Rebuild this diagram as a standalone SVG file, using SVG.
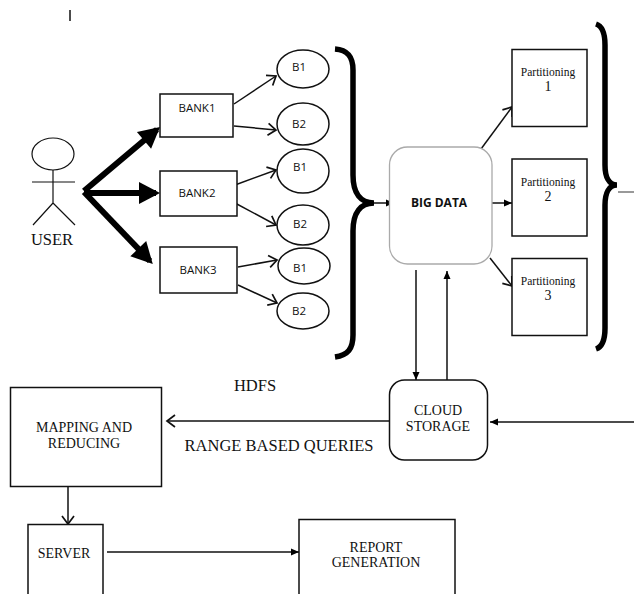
<svg xmlns="http://www.w3.org/2000/svg" width="634" height="594" viewBox="0 0 634 594">
<style>
.box{fill:#fff;stroke:#111;stroke-width:1.5}
.ln{fill:none;stroke:#111;stroke-width:1.5}
.thick{fill:none;stroke:#000;stroke-width:6}
.brace{fill:none;stroke:#000;stroke-width:5.5}
.s{font-family:"Open Sans",sans-serif;font-size:11.500px;fill:#111;text-anchor:middle}
.t{font-family:"Liberation Serif",serif;fill:#111;text-anchor:middle}
.m{font-size:14px}
.l{font-size:16.500px}
.p{font-size:11.500px}
</style>
<defs>
<marker id="open" markerUnits="userSpaceOnUse" markerWidth="16" markerHeight="16" refX="12" refY="8" orient="auto"><path d="M4 2L12 8L4 14" fill="none" stroke="#111" stroke-width="1.700"/></marker>
<marker id="fill" markerUnits="userSpaceOnUse" markerWidth="12" markerHeight="12" refX="9" refY="6" orient="auto"><path d="M1 2.500L9 6L1 9.500Z" fill="#000"/></marker>
<marker id="big" markerUnits="userSpaceOnUse" markerWidth="26" markerHeight="26" refX="18" refY="13" orient="auto"><path d="M1 2L22 13L1 24Z" fill="#000"/></marker>
</defs>
<g id="connectors">
<path class="ln" d="M70 10V21"/>
<path class="thick" d="M84 191L157 129.500" marker-end="url(#big)"/>
<path class="thick" d="M84 193H156" marker-end="url(#big)"/>
<path class="thick" d="M84 192L150 261" marker-end="url(#big)"/>
<path class="ln" d="M234 104L276 76" marker-end="url(#open)"/>
<path class="ln" d="M234 126L276 130" marker-end="url(#open)"/>
<path class="ln" d="M235 185L276 170" marker-end="url(#open)"/>
<path class="ln" d="M235 203L276 225" marker-end="url(#open)"/>
<path class="ln" d="M238 267L277 260" marker-end="url(#open)"/>
<path class="ln" d="M238 285L277 303" marker-end="url(#open)"/>
<path class="brace" d="M335 49C348 50 353 57 353 70V175C353 194 361 203 374 203C361 203 353 212 353 231V335C353 349 348 355 335 357"/>
<path class="ln" d="M374 203H394" marker-end="url(#fill)"/>
<path class="ln" d="M481 149L512 107" marker-end="url(#open)"/>
<path class="ln" d="M490 203H512" marker-end="url(#fill)"/>
<path class="ln" d="M490 258L512 286" marker-end="url(#open)"/>
<path class="brace" d="M596 24C602 26 605 32 605 45V165C605 177 609 185 617 185C609 185 605 193 605 205V328C605 341 602 347 596 349"/>
<path class="ln" d="M618 192H634" style="stroke:#555;stroke-width:1.200"/>
<path class="ln" d="M416 270V380" marker-end="url(#fill)"/>
<path class="ln" d="M447 380V271" marker-end="url(#fill)"/>
<path class="ln" d="M389 421H167" marker-end="url(#open)"/>
<path class="ln" d="M634 422H490" marker-end="url(#fill)"/>
<path class="ln" d="M68 487V524" marker-end="url(#open)"/>
<path class="ln" d="M107 552H299" marker-end="url(#fill)"/>
</g>
<g id="user">
<ellipse class="box" cx="53" cy="154" rx="21" ry="16" style="stroke-width:1.200"/>
<path class="ln" d="M53 170V203M32 182H75M53 203L33 225M53 203L75 225" style="stroke-width:1.200"/>
<text class="t l" x="52" y="245">USER</text>
</g>
<g id="bank1"><rect class="box" x="160" y="94" width="73" height="43"/><text class="s" x="197" y="112">BANK1</text></g>
<g id="bank2"><rect class="box" x="160" y="171" width="77" height="45"/><text class="s" x="197" y="197">BANK2</text></g>
<g id="bank3"><rect class="box" x="160" y="247" width="77" height="46"/><text class="s" x="198" y="274">BANK3</text></g>
<g id="b1a"><ellipse class="box" cx="303" cy="69" rx="26" ry="19"/><text class="s" x="299" y="71">B1</text></g>
<g id="b2a"><ellipse class="box" cx="303" cy="124" rx="26" ry="21"/><text class="s" x="299" y="128">B2</text></g>
<g id="b1b"><ellipse class="box" cx="303" cy="171" rx="26" ry="22"/><text class="s" x="300" y="171">B1</text></g>
<g id="b2b"><ellipse class="box" cx="303" cy="225" rx="26" ry="20"/><text class="s" x="300" y="228">B2</text></g>
<g id="b1c"><ellipse class="box" cx="304" cy="266" rx="26" ry="18"/><text class="s" x="300" y="272">B1</text></g>
<g id="b2c"><ellipse class="box" cx="303" cy="311" rx="26" ry="18"/><text class="s" x="299" y="315">B2</text></g>
<g id="bigdata"><rect x="389.500" y="147" width="102.500" height="117" rx="18" fill="#fff" stroke="#aaa" stroke-width="1.300"/><text class="s" x="439" y="207" style="font-weight:700;font-size:12px">BIG DATA</text></g>
<g id="part1"><rect class="box" x="512" y="49.500" width="75" height="77"/><text class="t p" x="548" y="76">Partitioning</text><text class="t m" x="548" y="91">1</text></g>
<g id="part2"><rect class="box" x="512" y="159" width="75" height="77"/><text class="t p" x="548" y="186">Partitioning</text><text class="t m" x="548" y="201">2</text></g>
<g id="part3"><rect class="box" x="512" y="258.500" width="75" height="77"/><text class="t p" x="548" y="285">Partitioning</text><text class="t m" x="548" y="300">3</text></g>
<g id="cloud"><rect class="box" x="389.500" y="380" width="98" height="80" rx="15"/><text class="t m" x="438" y="415">CLOUD</text><text class="t m" x="438" y="431">STORAGE</text></g>
<g id="mapping"><rect class="box" x="10.500" y="387.500" width="151" height="99"/><text class="t m" x="84" y="432">MAPPING AND</text><text class="t m" x="84" y="448">REDUCING</text></g>
<g id="server"><rect class="box" x="28" y="524.500" width="75" height="80"/><text class="t m" x="64" y="558">SERVER</text></g>
<g id="report"><rect class="box" x="299" y="519.500" width="156" height="90"/><text class="t m" x="376" y="552">REPORT</text><text class="t m" x="376" y="567">GENERATION</text></g>
<text class="t l" x="255" y="391">HDFS</text>
<text class="t" x="279" y="451" font-size="16.500">RANGE BASED QUERIES</text>
</svg>
